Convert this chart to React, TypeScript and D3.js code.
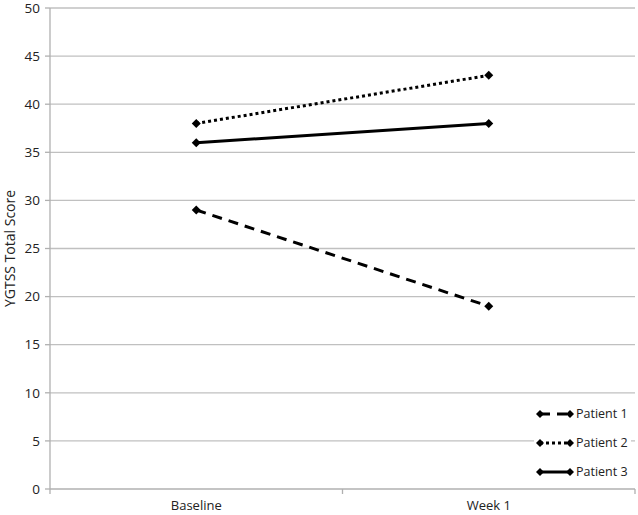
import React from 'react';
import * as d3 from 'd3';

const categories = ['Baseline', 'Week 1'];
const patients = ['Patient 1', 'Patient 2', 'Patient 3'];
const patient1 = [29, 19];
const patient2 = [38, 43];
const patient3 = [36, 38];
const yTicks = [0, 5, 10, 15, 20, 25, 30, 35, 40, 45, 50];

const seriesValues = [patient1, patient2, patient3];
const dashes = ['10,7', '3,3', null];

const W = 638;
const H = 515;
const FONT = "'Open Sans', sans-serif";

const App = () => {
  const left = 50;
  const right = 635;
  const top = 8;
  const bottom = 489;

  const x = d3.scaleBand<string>().domain(categories).range([left, right]);
  const y = d3.scaleLinear().domain([0, 50]).range([bottom, top]);

  const line = d3.line<number>()
    .x((_, i) => (x(categories[i]) as number) + x.bandwidth() / 2)
    .y(d => y(d));

  const diamond = (cx: number, cy: number, r = 4.5) =>
    `M${cx},${cy - r}L${cx + r},${cy}L${cx},${cy + r}L${cx - r},${cy}Z`;

  // legend positions
  const legX = 540;
  const legW = 30;
  const legY = [414, 443, 472];

  return (
    <div style={{ position: 'absolute', left: 0, top: 0 }}>
      <svg width={W} height={H} style={{ display: 'block', background: '#fff' }}>
        {/* gridlines */}
        {yTicks.slice(1).map(t => (
          <line key={t} x1={left} x2={right} y1={y(t)} y2={y(t)} stroke="#c0c0c0" strokeWidth={1.3} />
        ))}
        {/* y axis */}
        <line x1={left} x2={left} y1={top} y2={bottom} stroke="#b0b0b0" strokeWidth={1.3} />
        {yTicks.map(t => (
          <g key={t}>
            <line x1={left - 5} x2={left} y1={y(t)} y2={y(t)} stroke="#b0b0b0" strokeWidth={1.3} />
            <text x={left - 10} y={y(t)} dy="0.35em" textAnchor="end" fontFamily={FONT} fontSize={13.5} fill="#222">{t}</text>
          </g>
        ))}
        {/* x axis */}
        <line x1={left} x2={right} y1={bottom} y2={bottom} stroke="#b0b0b0" strokeWidth={1.3} />
        {[left, ...categories.map(c => (x(c) as number) + x.bandwidth())].map((px, i) => (
          <line key={i} x1={px} x2={px} y1={bottom} y2={bottom + 5} stroke="#b0b0b0" strokeWidth={1.3} />
        ))}
        {categories.map(c => (
          <text key={c} x={(x(c) as number) + x.bandwidth() / 2} y={bottom + 21} textAnchor="middle" fontFamily={FONT} fontSize={13} fill="#222">{c}</text>
        ))}
        <text transform={`translate(15,${(top + bottom) / 2}) rotate(-90)`} textAnchor="middle" fontFamily={FONT} fontSize={14} fill="#222">YGTSS Total Score</text>

        {/* series */}
        {seriesValues.map((vals, si) => (
          <g key={si}>
            <path d={line(vals) as string} fill="none" stroke="#000" strokeWidth={3}
              strokeDasharray={dashes[si] ?? undefined} />
            {vals.map((v, i) => (
              <path key={i} d={diamond((x(categories[i]) as number) + x.bandwidth() / 2, y(v))} fill="#000" />
            ))}
          </g>
        ))}

        {/* legend */}
        <rect x={legX - 6} y={400} width={right - legX + 2} height={85} fill="#fff" />
        {patients.map((p, i) => (
          <g key={p}>
            <line x1={legX} x2={legX + legW} y1={legY[i]} y2={legY[i]} stroke="#000" strokeWidth={3}
              strokeDasharray={dashes[i] ?? undefined} />
            <path d={diamond(legX, legY[i], 4)} fill="#000" />
            <path d={diamond(legX + legW, legY[i], 4)} fill="#000" />
            <text x={legX + legW + 6} y={legY[i]} dy="0.35em" fontFamily={FONT} fontSize={12.5} fill="#222">{p}</text>
          </g>
        ))}
      </svg>
    </div>
  );
};

export default App;
